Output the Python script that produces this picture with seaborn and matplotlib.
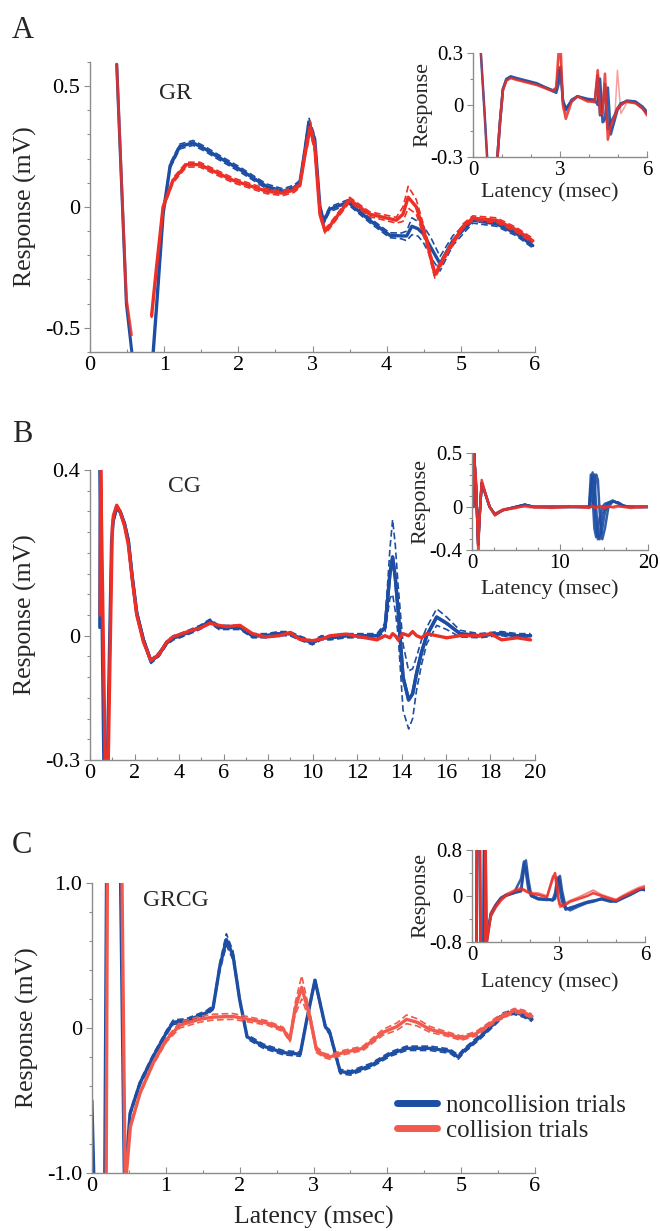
import matplotlib
matplotlib.use("Agg")
import matplotlib.pyplot as plt
from matplotlib.lines import Line2D
from matplotlib.ticker import MultipleLocator
import seaborn as sns

# ---------------- data ----------------
# Panel A (GR), main traces, latency in msec, response in mV
A_blue_early_x = [0.36, 0.49, 0.60]
A_blue_early_y = [0.59, -0.40, -0.70]
A_red_early_x = [0.36, 0.49, 0.56]
A_red_early_y = [0.59, -0.38, -0.53]

A_blue_x = [0.84, 0.90, 0.985, 1.08, 1.21, 1.39, 1.55, 1.71, 2.02, 2.38, 2.6, 2.75,
            2.83, 2.9, 2.95, 3.03, 3.10, 3.15, 3.23, 3.48, 3.77, 4.04, 4.2, 4.27,
            4.34, 4.42, 4.49, 4.6, 4.72, 4.89, 5.16, 5.48, 5.75, 5.97]
A_blue_y = [-0.65, -0.40, -0.03, 0.17, 0.25, 0.265, 0.24, 0.21, 0.155, 0.085, 0.065, 0.08,
            0.10, 0.24, 0.35, 0.28, 0.0, -0.06, -0.01, 0.02, -0.055, -0.117, -0.12, -0.12,
            -0.08, -0.09, -0.11, -0.17, -0.235, -0.14, -0.055, -0.07, -0.11, -0.16]
A_blue_sem = [0.01, 0.01, 0.01, 0.01, 0.01, 0.01, 0.01, 0.01, 0.01, 0.01, 0.01, 0.01,
              0.01, 0.015, 0.02, 0.015, 0.01, 0.01, 0.01, 0.01, 0.01, 0.01, 0.012, 0.02,
              0.035, 0.03, 0.035, 0.04, 0.03, 0.02, 0.012, 0.01, 0.01, 0.01]

A_red_x = [0.83, 0.90, 0.985, 1.12, 1.3, 1.48, 1.93, 2.38, 2.6, 2.75, 2.83, 2.9,
           2.97, 3.03, 3.1, 3.17, 3.23, 3.5, 3.77, 4.13, 4.22, 4.29, 4.4, 4.54,
           4.65, 4.81, 5.03, 5.16, 5.48, 5.75, 5.97]
A_red_y = [-0.45, -0.24, 0.0, 0.11, 0.175, 0.175, 0.11, 0.065, 0.057, 0.07, 0.09, 0.22,
           0.33, 0.25, -0.03, -0.10, -0.08, 0.03, -0.03, -0.055, -0.03, 0.04, 0.0, -0.14,
           -0.28, -0.19, -0.08, -0.047, -0.055, -0.095, -0.14]
A_red_sem = [0.01, 0.01, 0.01, 0.01, 0.01, 0.01, 0.01, 0.01, 0.01, 0.01, 0.01, 0.015,
             0.025, 0.02, 0.01, 0.01, 0.01, 0.01, 0.01, 0.012, 0.03, 0.045, 0.03, 0.02,
             0.015, 0.01, 0.01, 0.01, 0.01, 0.01, 0.01]

# Panel A inset, single trials
AI_early_x = [0.27, 0.40, 0.52]
AI_early_y = [0.30, -0.05, -0.40]
AI_x = [0.82, 0.93, 1.03, 1.15, 1.3, 1.5, 2.2, 2.75, 2.87, 2.95, 3.02, 3.1, 3.2, 3.4, 3.6,
        3.95, 4.2, 4.3, 4.38, 4.47, 4.55, 4.65, 4.75, 4.88, 4.98, 5.1, 5.3, 5.6, 5.85, 6.0]
AI_blue_1 = [-0.35, -0.1, 0.09, 0.145, 0.16, 0.15, 0.12, 0.085, 0.09, 0.2, 0.22, 0.03, -0.03, 0.03, 0.05,
             0.03, 0.02, 0.17, -0.06, -0.02, 0.12, -0.14, -0.1, -0.06, -0.02, 0.01, 0.02, 0.015, -0.02, -0.05]
AI_blue_2 = [-0.35, -0.1, 0.09, 0.15, 0.165, 0.155, 0.125, 0.08, 0.07, 0.12, 0.2, 0.02, -0.02, 0.02, 0.05,
             0.035, 0.03, 0.0, 0.15, -0.1, -0.08, 0.1, -0.17, -0.09, -0.03, 0.0, 0.025, 0.02, -0.01, -0.04]
AI_red_1 = [-0.35, -0.1, 0.085, 0.14, 0.155, 0.145, 0.115, 0.08, 0.1, 0.3, 0.33, 0.0, -0.08, 0.02, 0.05,
            0.02, 0.02, 0.2, -0.05, -0.05, 0.18, -0.2, -0.12, -0.07, -0.02, 0.0, 0.02, 0.01, -0.02, -0.06]
AI_red_2 = [-0.35, -0.1, 0.085, 0.145, 0.16, 0.15, 0.12, 0.075, 0.11, 0.26, 0.28, -0.02, -0.05, 0.03, 0.045,
            0.025, 0.01, 0.02, 0.16, -0.08, -0.1, -0.05, -0.15, -0.1, 0.2, -0.05, 0.01, 0.015, -0.015, -0.05]

# Panel B (CG), main traces
B_blue_early_x = [0.44, 0.46, 0.62, 0.70, 0.78, 0.97]
B_blue_early_y = [0.02, 0.40, -0.30, -0.32, -0.30, 0.23]
B_red_early_x = [0.46, 0.48, 0.68, 0.74, 0.82, 1.0]
B_red_early_y = [0.05, 0.40, -0.30, -0.32, -0.30, 0.26]

B_x = [1.05, 1.2, 1.35, 1.55, 1.72, 1.9, 2.1, 2.4, 2.74, 3.1,
       3.45, 3.75, 4.04, 4.5, 4.94, 5.39, 5.8, 6.14, 6.74, 7.3,
       7.9, 8.5, 8.99, 9.4, 10.0, 10.4, 10.8, 11.5, 12.27, 12.9,
       13.26, 13.48, 13.6, 13.72, 13.85, 14.07, 14.32, 14.5, 14.68, 14.9,
       15.13, 15.58, 16.03, 16.63, 17.5, 18.0, 18.5, 19.2, 19.8]
B_blue_y = [0.28, 0.31, 0.30, 0.27, 0.23, 0.14, 0.055, -0.01, -0.062, -0.045,
            -0.017, -0.005, 0.0, 0.01, 0.02, 0.035, 0.02, 0.02, 0.02, 0.0,
            0.0, 0.005, 0.005, -0.005, -0.017, -0.005, -0.005, 0.0, 0.0, 0.0,
            0.02, 0.15, 0.19, 0.14, 0.06, -0.10, -0.155, -0.14, -0.09, -0.04,
            0.0, 0.045, 0.03, 0.005, 0.0, 0.003, 0.005, 0.0, 0.0]
B_blue_sem = [0.005, 0.005, 0.005, 0.005, 0.005, 0.005, 0.005, 0.005, 0.005, 0.005,
              0.005, 0.005, 0.005, 0.005, 0.005, 0.005, 0.005, 0.005, 0.005, 0.005,
              0.005, 0.005, 0.005, 0.005, 0.005, 0.005, 0.005, 0.005, 0.005, 0.005,
              0.01, 0.06, 0.09, 0.08, 0.06, 0.08, 0.07, 0.06, 0.04, 0.03,
              0.02, 0.02, 0.015, 0.008, 0.005, 0.005, 0.005, 0.005, 0.005]
B_red_y = [0.29, 0.315, 0.30, 0.265, 0.22, 0.135, 0.05, -0.015, -0.06, -0.045,
           -0.015, -0.002, 0.003, 0.012, 0.018, 0.03, 0.025, 0.022, 0.025, 0.005,
           -0.003, 0.0, 0.008, -0.008, -0.012, -0.008, 0.0, 0.004, -0.004, -0.01,
           0.0, -0.005, 0.005, 0.0, -0.01, 0.005, 0.0, 0.01, 0.0, -0.005,
           0.005, 0.0, -0.005, 0.0, 0.0, 0.005, -0.01, -0.005, -0.01]

# Panel B inset, single trials
BI_x = [0.15, 0.22, 0.45, 0.7, 0.85, 1.1, 1.4, 2.0, 2.6, 3.5,
        5.0, 6.0, 7.0, 9.0, 11.0, 12.5, 13.3, 13.5, 13.7, 13.9,
        14.1, 14.3, 14.5, 14.8, 15.1, 15.5, 16.0, 16.6, 17.2, 18.0, 19.0, 20.0]
BI_blue_1 = [0.0, 0.5, 0.2, -0.35, -0.1, 0.22, 0.15, 0.0, -0.07, -0.03,
             0.0, 0.02, 0.0, 0.0, 0.0, 0.0, 0.0, 0.3, 0.1, -0.2,
             -0.28, -0.2, -0.1, 0.0, 0.03, 0.04, 0.05, 0.04, 0.01, 0.0, 0.0, 0.0]
BI_blue_2 = [0.0, 0.5, 0.2, -0.35, -0.1, 0.22, 0.15, 0.0, -0.07, -0.03,
             0.0, 0.02, 0.0, 0.0, 0.0, 0.0, 0.0, 0.05, 0.28, 0.3,
             0.0, -0.25, -0.3, -0.2, -0.05, 0.03, 0.05, 0.04, 0.01, 0.0, 0.0, 0.0]
BI_blue_3 = [0.0, 0.5, 0.2, -0.35, -0.1, 0.22, 0.15, 0.0, -0.07, -0.03,
             0.0, 0.02, 0.0, 0.0, 0.0, 0.0, 0.0, 0.2, 0.32, 0.05,
             -0.2, -0.3, -0.25, -0.08, 0.0, 0.04, 0.06, 0.03, 0.01, 0.0, 0.0, 0.0]
BI_blue_4 = [0.0, 0.5, 0.2, -0.35, -0.1, 0.22, 0.15, 0.0, -0.07, -0.03,
             0.0, 0.02, 0.0, 0.0, 0.0, 0.0, 0.0, 0.0, 0.02, 0.1,
             0.3, 0.25, -0.05, -0.3, -0.2, 0.0, 0.05, 0.04, 0.01, 0.0, 0.0, 0.0]
BI_red_1 = [0.0, 0.5, 0.25, -0.4, -0.12, 0.25, 0.16, 0.0, -0.08, -0.03,
            -0.01, 0.01, 0.0, -0.01, 0.0, 0.0, -0.01, 0.0, 0.01, 0.0,
            -0.01, 0.0, 0.01, 0.0, -0.01, 0.0, 0.0, 0.01, 0.0, -0.01, 0.0, 0.0]
BI_red_2 = [0.0, 0.48, 0.22, -0.36, -0.1, 0.2, 0.14, 0.0, -0.06, -0.02,
            0.0, 0.0, -0.01, 0.0, 0.01, -0.01, 0.0, 0.01, 0.0, -0.01,
            0.0, 0.01, 0.0, -0.01, 0.0, 0.01, -0.01, 0.0, 0.0, 0.01, -0.01, 0.0]

# Panel C (GRCG), main traces
C_blue_pre_x = [0.0, 0.03]
C_blue_pre_y = [-0.5, -1.1]
C_blue_x = [0.17, 0.2, 0.38, 0.44, 0.515, 0.65, 0.83, 1.01, 1.1, 1.28,
            1.55, 1.64, 1.73, 1.82, 1.91, 2.0, 2.1, 2.32, 2.59, 2.82,
            2.91, 3.02, 3.16, 3.22, 3.36, 3.5, 3.77, 4.04, 4.26, 4.58,
            4.85, 4.96, 5.03, 5.26, 5.57, 5.71, 5.84, 5.96]
C_blue_y = [-1.3, 1.3, 1.3, -1.1, -0.59, -0.38, -0.195, -0.03, 0.04, 0.05,
            0.105, 0.14, 0.42, 0.61, 0.5, 0.195, -0.06, -0.125, -0.17, -0.18,
            0.06, 0.33, 0.01, -0.03, -0.3, -0.31, -0.26, -0.18, -0.14, -0.14,
            -0.16, -0.2, -0.16, -0.06, 0.09, 0.11, 0.09, 0.06]
C_blue_sem = [0.0, 0.0, 0.0, 0.0, 0.015, 0.015, 0.015, 0.015, 0.015, 0.015,
              0.015, 0.015, 0.03, 0.04, 0.03, 0.015, 0.015, 0.015, 0.015, 0.015,
              0.015, 0.015, 0.015, 0.015, 0.015, 0.015, 0.015, 0.015, 0.015, 0.015,
              0.015, 0.015, 0.015, 0.015, 0.015, 0.015, 0.015, 0.015]
C_red_x = [0.19, 0.21, 0.40, 0.45, 0.52, 0.65, 0.83, 1.01, 1.19, 1.46,
           1.64, 1.91, 2.37, 2.59, 2.68, 2.75, 2.84, 2.95, 3.04, 3.15,
           3.22, 3.4, 3.67, 3.94, 4.13, 4.26, 4.4, 4.58, 4.8, 5.0,
           5.2, 5.48, 5.72, 5.84, 5.96]
C_red_y = [-1.3, 1.3, 1.3, -1.1, -0.68, -0.45, -0.24, -0.08, 0.02, 0.06,
           0.075, 0.08, 0.035, -0.01, -0.08, 0.13, 0.28, 0.08, -0.15, -0.19,
           -0.2, -0.17, -0.14, -0.03, 0.01, 0.06, 0.04, -0.01, -0.04, -0.07,
           -0.04, 0.06, 0.12, 0.11, 0.08]
C_red_sem = [0.0, 0.0, 0.0, 0.0, 0.01, 0.01, 0.012, 0.015, 0.02, 0.02,
             0.02, 0.02, 0.015, 0.015, 0.015, 0.04, 0.08, 0.03, 0.02, 0.015,
             0.015, 0.015, 0.015, 0.02, 0.025, 0.03, 0.025, 0.02, 0.015, 0.015,
             0.015, 0.015, 0.015, 0.015, 0.015]

# Panel C inset, single trials
CI_x = [0.15, 0.17, 0.27, 0.29, 0.40, 0.42, 0.45, 0.47, 0.52, 0.65,
        0.82, 1.0, 1.17, 1.45, 1.7, 1.8, 1.87, 1.95, 2.05, 2.3,
        2.6, 2.8, 2.88, 2.95, 3.0, 3.05, 3.12, 3.25, 3.4, 3.7,
        4.0, 4.2, 4.5, 4.8, 5.0, 5.2, 5.5, 5.8, 6.0]
CI_blue_1 = [-1, 1, 1, -1, -1, 1, 1, -1, -0.75, -0.35,
             -0.18, -0.05, 0.0, 0.05, 0.08, 0.45, 0.5, 0.2, 0.0, -0.05,
             -0.05, -0.07, -0.05, 0.1, 0.3, 0.35, 0.1, -0.2, -0.25, -0.18,
             -0.12, -0.1, -0.05, -0.08, -0.1, -0.05, 0.02, 0.1, 0.12]
CI_blue_2 = [-1, 1, 1, -1, -1, 1, 1, -1, -0.7, -0.3,
             -0.15, -0.03, 0.02, 0.06, 0.1, 0.55, 0.62, 0.3, 0.02, -0.04,
             -0.06, -0.08, -0.02, 0.2, 0.33, 0.25, 0.0, -0.22, -0.22, -0.15,
             -0.1, -0.08, -0.06, -0.1, -0.08, -0.03, 0.04, 0.12, 0.1]
CI_blue_3 = [-1, 1, 1, -1, -1, 1, 1, -1, -0.72, -0.32,
             -0.16, -0.04, 0.01, 0.05, 0.3, 0.6, 0.4, 0.12, 0.0, -0.06,
             -0.07, -0.06, 0.05, 0.3, 0.28, 0.1, -0.1, -0.24, -0.2, -0.16,
             -0.11, -0.09, -0.04, -0.09, -0.09, -0.04, 0.03, 0.11, 0.11]
CI_red_1 = [-1, 1, 1, -1, -1, -1, -1, 1, -0.8, -0.35,
            -0.2, -0.08, 0.0, 0.08, 0.12, 0.1, 0.08, 0.06, 0.04, 0.02,
            -0.02, 0.3, 0.4, 0.2, -0.05, -0.15, -0.18, -0.15, -0.1, -0.05,
            0.0, 0.05, 0.0, -0.05, -0.08, -0.02, 0.05, 0.12, 0.15]
CI_red_2 = [-1, 1, 1, -1, -1, -1, -1, 1, -0.75, -0.3,
            -0.15, -0.05, 0.03, 0.1, 0.15, 0.12, 0.1, 0.08, 0.06, 0.05,
            0.0, 0.35, 0.3, 0.1, -0.1, -0.2, -0.15, -0.12, -0.08, -0.02,
            0.05, 0.1, 0.02, -0.03, -0.06, 0.0, 0.08, 0.15, 0.18]

legend_labels = ["noncollision trials", "collision trials"]

# ---------------- style ----------------
BLUE = "#1d4ea3"
RED = "#ec3028"
SALMON = "#f15a4c"
GREY = "#8c8c8c"

sns.set_theme(style="ticks")
plt.rcParams["font.family"] = ["Liberation Serif", "DejaVu Serif"]


def draw(ax, x, y, color, lw, ls="-", alpha=1.0):
    sns.lineplot(x=x, y=y, ax=ax, color=color, linewidth=lw, linestyle=ls,
                 alpha=alpha, estimator=None, sort=False, legend=False)


def draw_mean_sem(ax, x, y, sem, color, lw=2.4):
    up = [v + s for v, s in zip(y, sem)]
    lo = [v - s for v, s in zip(y, sem)]
    draw(ax, x, up, color, 1.2, ls=(0, (4, 2)))
    draw(ax, x, lo, color, 1.2, ls=(0, (4, 2)))
    draw(ax, x, y, color, lw)


def style(ax, xlim, ylim, xmaj, xmin, yticks, ylabels, ymin, fs):
    ax.set_xlim(*xlim)
    ax.set_ylim(*ylim)
    sns.despine(ax=ax)
    for s in ["left", "bottom"]:
        ax.spines[s].set_color(GREY)
        ax.spines[s].set_linewidth(1.0)
    ax.xaxis.set_major_locator(MultipleLocator(xmaj))
    ax.xaxis.set_minor_locator(MultipleLocator(xmin))
    ax.set_yticks(yticks)
    ax.set_yticklabels(ylabels)
    ax.yaxis.set_minor_locator(MultipleLocator(ymin))
    ax.tick_params(axis="x", which="both", direction="in", colors=GREY,
                   labelcolor="black", labelsize=fs, pad=3)
    ax.tick_params(axis="y", which="both", direction="out", colors=GREY,
                   labelcolor="black", labelsize=fs, pad=3)
    ax.tick_params(which="major", length=4, width=0.8)
    ax.tick_params(which="minor", length=2.5, width=0.8)
    ax.set_facecolor("none")
    ax.set_xlabel("")
    ax.set_ylabel("")


fig = plt.figure(figsize=(6.6, 12.31), dpi=100)

# ---------------- Panel A ----------------
axA = fig.add_axes([0.1364, 0.7141, 0.6742, 0.2356])
draw(axA, A_blue_early_x, A_blue_early_y, BLUE, 2.2)
draw(axA, A_red_early_x, A_red_early_y, RED, 2.0, alpha=0.85)
draw_mean_sem(axA, A_blue_x, A_blue_y, A_blue_sem, BLUE)
draw_mean_sem(axA, A_red_x, A_red_y, A_red_sem, RED)
style(axA, (0, 6), (-0.6, 0.6), 1, 0.5, [0.5, 0, -0.5], ["0.5", "0", "-0.5"], 0.1, 16)
axA.set_ylabel("Response (mV)", fontsize=18.5)
axA.yaxis.set_label_coords(-0.12, 0.5)
axA.text(0.93, 0.47, "GR", fontsize=17, ha="left", va="center")

axAi = fig.add_axes([0.7167, 0.8725, 0.2636, 0.0845])
draw(axAi, AI_early_x, AI_early_y, BLUE, 1.8)
draw(axAi, AI_early_x, AI_early_y, RED, 1.3, alpha=0.8)
draw(axAi, AI_x, AI_red_2, RED, 1.1, alpha=0.45)
draw(axAi, AI_x, AI_blue_1, BLUE, 1.9, alpha=0.9)
draw(axAi, AI_x, AI_blue_2, BLUE, 1.9, alpha=0.9)
draw(axAi, AI_x, AI_red_1, RED, 1.9, alpha=0.85)
style(axAi, (0, 6), (-0.3, 0.3), 3, 1, [0.3, 0, -0.3], ["0.3", "0", "-0.3"], 0.15, 15)
axAi.set_ylabel("Response", fontsize=16)
axAi.yaxis.set_label_coords(-0.236, 0.5)
axAi.set_xlabel("Latency (msec)", fontsize=16)
axAi.xaxis.set_label_coords(0.44, -0.24)

# ---------------- Panel B ----------------
axB = fig.add_axes([0.1364, 0.3826, 0.6742, 0.2356])
draw(axB, B_blue_early_x + B_x, B_blue_early_y + B_blue_y, BLUE, 2.4)
draw_mean_sem(axB, B_x, B_blue_y, B_blue_sem, BLUE)
draw(axB, B_red_early_x + B_x, B_red_early_y + B_red_y, RED, 2.4)
style(axB, (0, 20), (-0.3, 0.4), 2, 1, [0.4, 0, -0.3], ["0.4", "0", "-0.3"], 0.05, 16)
axB.set_ylabel("Response (mV)", fontsize=18.5)
axB.yaxis.set_label_coords(-0.12, 0.5)
axB.text(3.5, 0.36, "CG", fontsize=17, ha="left", va="center")

axBi = fig.add_axes([0.7152, 0.5532, 0.2667, 0.0788])
draw(axBi, BI_x, BI_blue_1, BLUE, 1.8, alpha=0.9)
draw(axBi, BI_x, BI_blue_2, BLUE, 1.8, alpha=0.9)
draw(axBi, BI_x, BI_blue_3, BLUE, 1.8, alpha=0.9)
draw(axBi, BI_x, BI_blue_4, BLUE, 1.8, alpha=0.9)
draw(axBi, BI_x, BI_red_2, RED, 1.4, alpha=0.6)
draw(axBi, BI_x, BI_red_1, RED, 1.8, alpha=0.9)
style(axBi, (0, 20), (-0.4, 0.5), 10, 2.5, [0.5, 0, -0.4], ["0.5", "0", "-0.4"], 0.1, 15)
axBi.set_ylabel("Response", fontsize=16)
axBi.yaxis.set_label_coords(-0.239, 0.5)
axBi.set_xlabel("Latency (msec)", fontsize=16)
axBi.xaxis.set_label_coords(0.443, -0.30)

# ---------------- Panel C ----------------
axC = fig.add_axes([0.1394, 0.0471, 0.6712, 0.2356])
draw(axC, C_blue_pre_x, C_blue_pre_y, BLUE, 2.2)
draw_mean_sem(axC, C_blue_x, C_blue_y, C_blue_sem, BLUE)
draw_mean_sem(axC, C_red_x, C_red_y, C_red_sem, SALMON)
style(axC, (0, 6), (-1.0, 1.0), 1, 0.5, [1.0, 0, -1.0], ["1.0", "0", "-1.0"], 0.2, 16)
axC.set_ylabel("Response (mV)", fontsize=18.5)
axC.yaxis.set_label_coords(-0.12, 0.5)
axC.set_xlabel("Latency (msec)", fontsize=18.5)
axC.xaxis.set_label_coords(0.5, -0.115)
axC.text(0.69, 0.88, "GRCG", fontsize=17, ha="left", va="center")
handles = [Line2D([], [], color=BLUE, lw=5), Line2D([], [], color=SALMON, lw=5)]
axC.legend(handles, legend_labels, loc="upper left", bbox_to_anchor=(0.688, 0.27),
           frameon=False, fontsize=18, handlelength=1.6, handletextpad=0.35,
           labelspacing=0.1, borderpad=0, borderaxespad=0)

axCi = fig.add_axes([0.7152, 0.2348, 0.2621, 0.0747])
draw(axCi, CI_x, CI_blue_1, BLUE, 1.8, alpha=0.9)
draw(axCi, CI_x, CI_blue_2, BLUE, 1.8, alpha=0.9)
draw(axCi, CI_x, CI_blue_3, BLUE, 1.8, alpha=0.9)
draw(axCi, CI_x, CI_red_2, RED, 1.4, alpha=0.6)
draw(axCi, CI_x, CI_red_1, RED, 1.8, alpha=0.9)
style(axCi, (0, 6), (-0.8, 0.8), 3, 1, [0.8, 0, -0.8], ["0.8", "0", "-0.8"], 0.4, 15)
axCi.set_ylabel("Response", fontsize=16)
axCi.yaxis.set_label_coords(-0.243, 0.5)
axCi.set_xlabel("Latency (msec)", fontsize=16)
axCi.xaxis.set_label_coords(0.45, -0.33)

# panel letters
fig.text(12 / 660, 1 - 38 / 1231, "A", fontsize=22, va="baseline")
fig.text(12 / 660, 1 - 442 / 1231, "B", fontsize=22, va="baseline")
fig.text(12 / 660, 1 - 853 / 1231, "C", fontsize=22, va="baseline")

fig.savefig("out.png", dpi=100, facecolor="white")
